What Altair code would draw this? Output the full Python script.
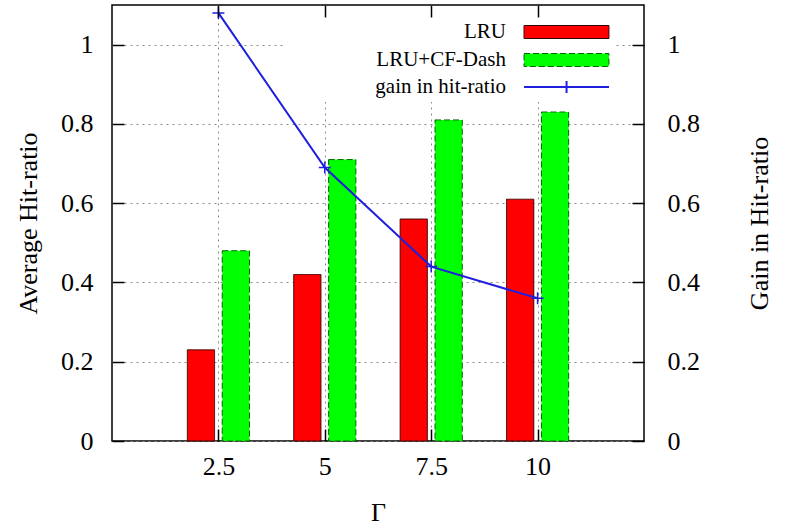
import altair as alt
import pandas as pd

# ---- data ----
gamma = [2.5, 5, 7.5, 10]
lru = [0.23, 0.42, 0.56, 0.61]
lru_cf = [0.48, 0.71, 0.81, 0.83]
gain = [1.08, 0.69, 0.44, 0.36]
series_names = ["LRU", "LRU+CF-Dash", "gain in hit-ratio"]
x_ticks = [2.5, 5, 7.5, 10]
y_ticks = [0, 0.2, 0.4, 0.6, 0.8, 1.0]

FONT = "Liberation Serif"
BLUE = "#1f1fdd"
xs = alt.Scale(domain=[0, 12.5], nice=False, zero=False)
ys = alt.Scale(domain=[0, 1.1], nice=False, zero=False)

BAR_SYMBOL = "M20.23,-0.59H27.95V0.59H20.23Z"
LINE_SYMBOL = "M20.18,0H27.91M24.05,-0.545V0.545"


def legend_for(legend_y, stroke, dash=None, symbol=BAR_SYMBOL, stroke_w=1, label_offset=193,
               spacer=False, fill_sym=None):
    kw = dict(
        orient="none", legendX=173, legendY=legend_y,
        symbolType=symbol, symbolSize=484, symbolStrokeWidth=stroke_w,
        symbolStrokeColor=stroke,
        labelAlign="right", labelOffset=label_offset, labelFont=FONT, labelFontSize=21,
        labelColor="black", labelLimit=300,
        fillColor="white", padding=5,
    )
    if dash is not None:
        kw["symbolDash"] = dash
    if fill_sym is not None:
        kw["symbolFillColor"] = fill_sym
    if spacer:
        kw.update(title=" ", titleFontSize=6, titlePadding=3.5)
    else:
        kw["title"] = None
    return alt.Legend(**kw)


def bar_layer(name, values, lo, hi, fill, stroke, dash, legend, with_axes):
    df = pd.DataFrame({"gamma": gamma, "value": values, "series": [name] * len(gamma)})
    if with_axes:
        xax = alt.Axis(orient="bottom", values=x_ticks, format="~g", title="Γ", grid=True,
                       ticks=False, domain=False, labelPadding=12, titlePadding=20)
        yax = alt.Axis(orient="left", values=y_ticks, format="~g", title="Average Hit-ratio",
                       grid=True, ticks=False, domain=False, labelPadding=19, titlePadding=19)
    else:
        xax = None
        yax = None
    return alt.Chart(df).transform_calculate(
        x0=f"datum.gamma + ({lo})", x1=f"datum.gamma + ({hi})"
    ).mark_bar(strokeWidth=1, stroke=stroke, strokeDash=dash).encode(
        x=alt.X("x0:Q", scale=xs, axis=xax),
        x2="x1:Q",
        y=alt.Y("value:Q", scale=ys, axis=yax),
        y2=alt.datum(0),
        fill=alt.Fill("series:N", scale=alt.Scale(domain=[name], range=[fill]), legend=legend),
    )


lru_layer = bar_layer(series_names[0], lru, -0.73, -0.09, "#ff0000", "#3a0000", [1, 0],
                      legend_for(1, "#3a0000", spacer=True), True)
cf_layer = bar_layer(series_names[1], lru_cf, 0.09, 0.73, "#00ff00", "#006400", [6, 3],
                     legend_for(38.5, "#006400", dash=[6, 3]), False)

line_df = pd.DataFrame({"gamma": gamma, "gain": gain, "series": [series_names[2]] * len(gamma)})

line_layer = alt.Chart(line_df).mark_line(strokeWidth=2).encode(
    x=alt.X("gamma:Q", scale=xs, axis=None),
    y=alt.Y("gain:Q", scale=ys, axis=alt.Axis(
        orient="right", values=y_ticks, format="~g", title="Gain in Hit-ratio", grid=False,
        ticks=False, domain=False, labelPadding=23, titleAngle=270, titlePadding=73)),
    stroke=alt.Stroke("series:N", scale=alt.Scale(domain=[series_names[2]], range=[BLUE]),
                      legend=legend_for(65, BLUE, symbol=LINE_SYMBOL, stroke_w=2,
                                        label_offset=192, fill_sym="transparent")),
)

point_layer = alt.Chart(line_df).mark_point(
    shape="M-1,0H1M0,-1V1", filled=False, size=144, strokeWidth=1.5, color=BLUE, opacity=1
).encode(
    x=alt.X("gamma:Q", scale=xs, axis=None),
    y=alt.Y("gain:Q", scale=ys, axis=None),
)


def inward(orient_x, orient_y):
    common = dict(offset=-12, tickSize=12, labels=False, domain=False, grid=False,
                  title=None, tickColor="black", tickWidth=1.5, zindex=1)
    return alt.Chart(line_df).mark_point(opacity=0).encode(
        x=alt.X("gamma:Q", scale=xs, axis=alt.Axis(orient=orient_x, values=x_ticks, **common)),
        y=alt.Y("gain:Q", scale=ys, axis=alt.Axis(orient=orient_y, values=y_ticks, **common)),
    )


chart = alt.layer(
    lru_layer, cf_layer, line_layer, point_layer, inward("top", "left"), inward("bottom", "right")
).resolve_scale(
    fill="independent", stroke="independent"
).resolve_axis(
    x="independent", y="independent"
).properties(
    width=532, height=436,
    autosize=alt.AutoSizeParams(type="none"),
    padding={"left": 112, "top": 5, "right": 154, "bottom": 85},
    background="white",
).configure_view(
    stroke="black", strokeWidth=1.5
).configure_axis(
    labelFont=FONT, labelFontSize=26, labelColor="black",
    titleFont=FONT, titleFontSize=26, titleFontWeight="normal", titleColor="black",
    gridColor="#8a8a8a", gridDash=[2, 4], gridWidth=1,
)

chart.save("out.html", embed_options={"renderer": "svg", "actions": False})
